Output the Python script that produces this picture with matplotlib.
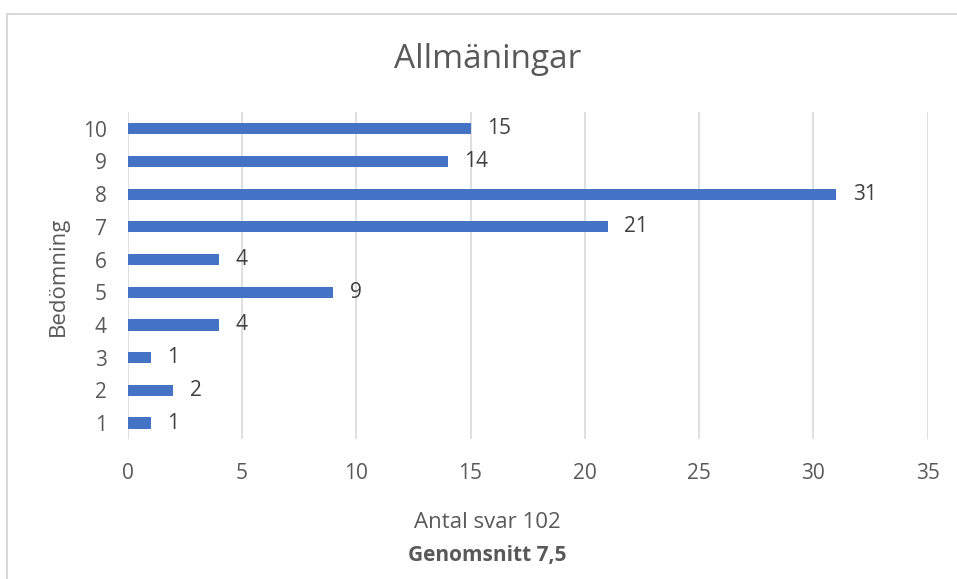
import matplotlib.pyplot as plt
from matplotlib.patches import Rectangle

# data
betyg = [1, 2, 3, 4, 5, 6, 7, 8, 9, 10]
antal = [1, 2, 1, 4, 9, 4, 21, 31, 14, 15]
x_ticks = [0, 5, 10, 15, 20, 25, 30, 35]

plt.rcParams['font.family'] = ['Open Sans', 'DejaVu Sans']
grey = '#595959'

fig = plt.figure(figsize=(9.57, 5.79), dpi=100)
ax = fig.add_axes([0.1334, 0.2411, 0.8360, 0.5648])

# chart area border
fig.patches.append(Rectangle((7 / 957, -0.1), 1.2, 1 - 14 / 579 + 0.1,
                             transform=fig.transFigure, fill=False,
                             edgecolor='#d9d9d9', linewidth=1.5))

ax.barh(betyg, antal, height=0.34, color='#4472C4', zorder=3)
for y, v in zip(betyg, antal):
    ax.annotate(str(v), (v, y), xytext=(12, 0), textcoords='offset points',
                va='center', ha='left', fontsize=15, color='#404040')

ax.set_xlim(0, 35)
ax.set_ylim(0.5, 10.5)
ax.set_xticks(x_ticks)
ax.set_yticks(betyg)
ax.tick_params(axis='both', length=0, labelsize=15, labelcolor=grey)
ax.tick_params(axis='x', pad=17)
ax.tick_params(axis='y', pad=15)
ax.grid(axis='x', color='#d9d9d9', linewidth=1.2, zorder=0)
for s in ax.spines.values():
    s.set_visible(False)

ax.set_ylabel('Bedömning', fontsize=16, color=grey, labelpad=10)
fig.text(488 / 957, 1 - 60 / 579, 'Allmäningar', ha='center', va='center',
         fontsize=24, color=grey)
fig.text(487 / 957, 1 - 522 / 579, 'Antal svar 102', ha='center', va='center',
         fontsize=16, color=grey)
fig.text(487 / 957, 1 - 556 / 579, 'Genomsnitt 7,5', ha='center', va='center',
         fontsize=15, color=grey, fontweight='bold')

fig.savefig('out.png', dpi=100)
